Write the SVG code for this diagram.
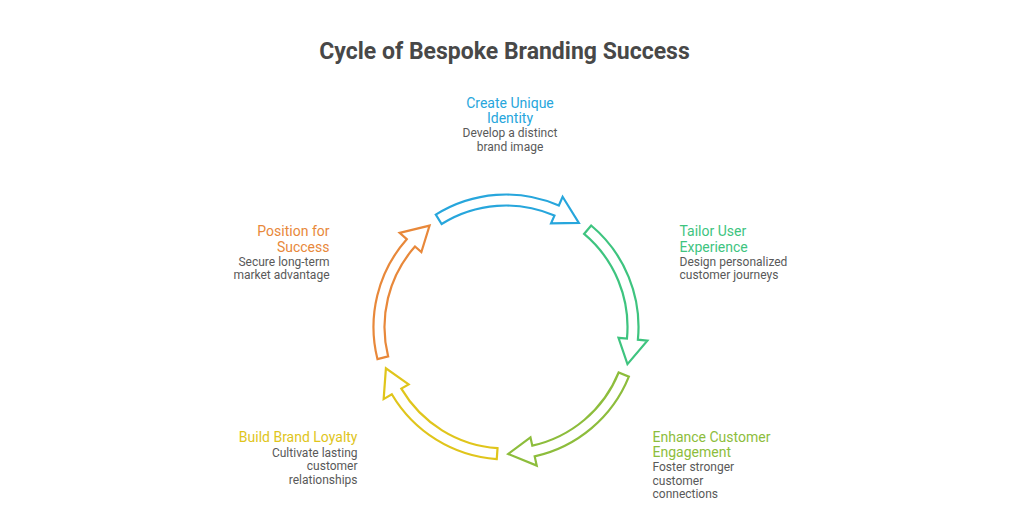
<svg xmlns="http://www.w3.org/2000/svg" xmlns:xlink="http://www.w3.org/1999/xlink" width="1024" height="513" viewBox="0 0 1024 513">
<style>
  text { font-family: Roboto, "Liberation Sans", sans-serif; }
  .title { font-size: 23px; font-weight: 700; fill: #484848; }
  .lbl { font-size: 14px; }
  .desc { font-size: 12px; fill: #595959; }
  .blue { fill: #27a6dc; }
  .green { fill: #3ec47f; }
  .lime { fill: #8dbd3c; }
  .yellow { fill: #e0c51b; }
  .orange { fill: #e8883a; }
  .s-blue { stroke: #27a6dc; }
  .s-green { stroke: #3ec47f; }
  .s-lime { stroke: #8dbd3c; }
  .s-yellow { stroke: #e0c51b; }
  .s-orange { stroke: #e8883a; }
</style>
<defs>
  <path id="arrow" fill="#ffffff" stroke-width="2.2" stroke-linejoin="miter"
    d="M435.79 214.64 A132.5 132.5 0 0 1 558.83 205.48 L562.62 196.77 L578.85 222.96 L551.05 223.37 L554.44 215.57 A121.5 121.5 0 0 0 441.62 223.97 Z"/>
</defs>
<rect width="1024" height="513" fill="#ffffff"/>
<text class="title" x="504.5" y="58.5" text-anchor="middle">Cycle of Bespoke Branding Success</text>

<g id="connectors">
  <use xlink:href="#arrow" class="s-blue"/>
  <use xlink:href="#arrow" class="s-green" transform="rotate(72 506 327)"/>
  <use xlink:href="#arrow" class="s-lime" transform="rotate(144 506 327)"/>
  <use xlink:href="#arrow" class="s-yellow" transform="rotate(216 506 327)"/>
  <use xlink:href="#arrow" class="s-orange" transform="rotate(288 506 327)"/>
</g>

<g id="create-unique-identity" text-anchor="middle">
  <text class="lbl blue" x="510" y="107.5">Create Unique</text>
  <text class="lbl blue" x="510" y="123">Identity</text>
  <text class="desc" x="510" y="137">Develop a distinct</text>
  <text class="desc" x="510" y="150.5">brand image</text>
</g>

<g id="tailor-user-experience" text-anchor="start">
  <text class="lbl green" x="679.5" y="236">Tailor User</text>
  <text class="lbl green" x="679.5" y="251.5">Experience</text>
  <text class="desc" x="679.5" y="265.5">Design personalized</text>
  <text class="desc" x="679.5" y="279">customer journeys</text>
</g>

<g id="enhance-customer-engagement" text-anchor="start">
  <text class="lbl lime" x="652.5" y="442">Enhance Customer</text>
  <text class="lbl lime" x="652.5" y="457">Engagement</text>
  <text class="desc" x="652.5" y="471">Foster stronger</text>
  <text class="desc" x="652.5" y="484.5">customer</text>
  <text class="desc" x="652.5" y="498">connections</text>
</g>

<g id="build-brand-loyalty" text-anchor="end">
  <text class="lbl yellow" x="357.5" y="442">Build Brand Loyalty</text>
  <text class="desc" x="357.5" y="456.5">Cultivate lasting</text>
  <text class="desc" x="357.5" y="470">customer</text>
  <text class="desc" x="357.5" y="483.5">relationships</text>
</g>

<g id="position-for-success" text-anchor="end">
  <text class="lbl orange" x="329.5" y="236">Position for</text>
  <text class="lbl orange" x="329.5" y="251.5">Success</text>
  <text class="desc" x="329.5" y="265.5">Secure long-term</text>
  <text class="desc" x="329.5" y="279">market advantage</text>
</g>
</svg>
